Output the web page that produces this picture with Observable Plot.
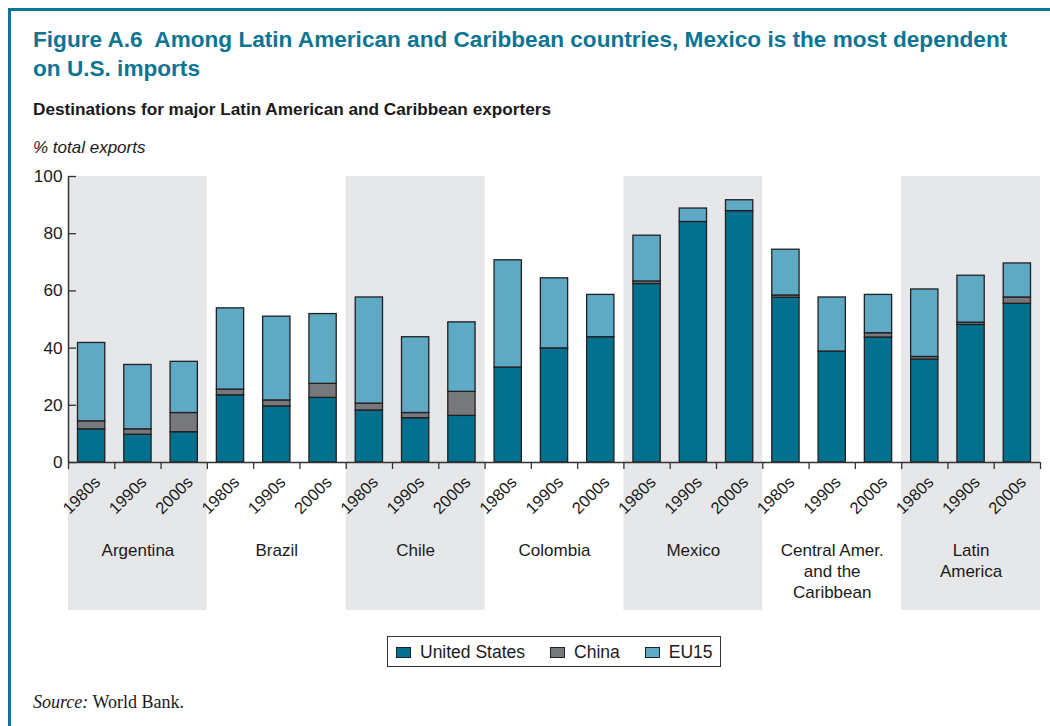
<!DOCTYPE html>
<html>
<head>
<meta charset="utf-8">
<script src="https://cdn.jsdelivr.net/npm/d3@7"></script>
<script src="https://cdn.jsdelivr.net/npm/@observablehq/plot@0.6"></script>
<style>
  html, body { margin: 0; padding: 0; background: #fff; }
  body { width: 1050px; height: 726px; position: relative; overflow: hidden; font-family: "Liberation Sans", Arial, Helvetica, sans-serif; }
  .frame { position: absolute; left: 8px; top: 8px; width: 1100px; height: 800px; border-top: 3.5px solid #0b7593; border-left: 3.5px solid #0b7593; box-sizing: border-box; }
  .title { position: absolute; left: 33px; top: 25px; width: 1010px; color: #0b7593; font-weight: bold; font-size: 22.6px; line-height: 29px; }
  .subtitle { position: absolute; left: 33px; top: 99px; font-weight: bold; font-size: 17.2px; color: #1a1a1a; }
  .unit { position: absolute; left: 33px; top: 138px; font-style: italic; font-size: 17px; color: #1a1a1a; }
  #chart { position: absolute; left: 0; top: 160px; }
  .legend { position: absolute; left: 387px; top: 636px; width: 334px; height: 31px; border: 1.5px solid #333; box-sizing: border-box; display: flex; align-items: center; font-size: 17.5px; color: #1a1a1a; }
  .legend span.sw { display: inline-block; width: 15px; height: 11px; border: 1.3px solid #222; box-sizing: border-box; margin-right: 9px; }
  .legend .item { display: flex; align-items: center; padding-top: 2px; }
  .source { position: absolute; left: 33px; top: 692px; font-family: "Liberation Serif", "Times New Roman", serif; font-size: 18px; color: #1a1a1a; }
</style>
</head>
<body>
<div class="frame"></div>
<div class="title">Figure A.6&nbsp; Among Latin American and Caribbean countries, Mexico is the most dependent<br>on U.S. imports</div>
<div class="subtitle">Destinations for major Latin American and Caribbean exporters</div>
<div class="unit">% total exports</div>
<div id="chart"></div>
<div class="legend" id="legend"></div>
<div class="source"><i>Source:</i> World Bank.</div>
<script>
const countries = ["Argentina", "Brazil", "Chile", "Colombia", "Mexico", "Central Amer.\nand the\nCaribbean", "Latin\nAmerica"];
const decades = ["1980s", "1990s", "2000s"];
const seriesNames = ["United States", "China", "EU15"];
const seriesColors = ["#04708f", "#77787b", "#5eaac4"];
const usValues    = [11.6, 9.7, 10.6, 23.5, 19.6, 22.6, 18.2, 15.5, 16.3, 33.2, 39.9, 43.8, 62.4, 84.1, 87.9, 57.6, 38.8, 43.7, 36.0, 48.1, 55.5];
const chinaValues = [2.8, 1.9, 6.7, 2.0, 2.1, 4.9, 2.4, 1.8, 8.4, 0, 0, 0, 0.9, 0, 0, 0.8, 0, 1.5, 0.9, 0.8, 2.2];
const euValues    = [27.4, 22.5, 17.9, 28.4, 29.3, 24.4, 37.1, 26.5, 24.3, 37.5, 24.5, 14.8, 16.0, 4.7, 3.8, 16.0, 18.9, 13.4, 23.6, 16.4, 11.9];
const yTicks = [0, 20, 40, 60, 80, 100];

// build table
const slots = [];
countries.forEach((c, g) => decades.forEach((d, k) => slots.push({country: c, decade: d, i: g * 3 + k})));
const seriesValues = [usValues, chinaValues, euValues];
const segments = [];
slots.forEach(s => {
  let base = 0;
  seriesValues.forEach((vals, j) => {
    const v = vals[s.i];
    if (v > 0) segments.push({i: s.i, x1: s.i, x2: s.i + 1, y1: base, y2: base + v, series: seriesNames[j]});
    base += v;
  });
});
const groups = countries.map((c, g) => ({country: c, x1: g * 3, x2: g * 3 + 3, xm: g * 3 + 1.5}));
const shaded = groups.filter((d, g) => g % 2 === 0);

const chart = Plot.plot({
  width: 1050,
  height: 462,
  marginLeft: 68,
  marginRight: 10,
  marginTop: 16,
  marginBottom: 160,
  style: {fontFamily: "Liberation Sans, Arial, sans-serif", fontSize: "17px", color: "#1a1a1a", background: "transparent"},
  x: {domain: [0, 21], axis: null},
  y: {domain: [0, 100], axis: null},
  color: {domain: seriesNames, range: seriesColors},
  marks: [
    Plot.rect(shaded, {x1: "x1", x2: "x2", y1: 0, y2: 100, fill: "#e6e7e9", insetBottom: -148}),
    Plot.rectY(segments, {x1: "x1", x2: "x2", y1: "y1", y2: "y2", fill: "series", stroke: "#231f20", strokeWidth: 1.3, insetLeft: 9.5, insetRight: 9.5}),
    Plot.ruleX([0], {y1: 0, y2: 100, stroke: "#333", strokeWidth: 1.5}),
    Plot.ruleY([0], {x1: 0, x2: 21, stroke: "#333", strokeWidth: 1.5}),
    Plot.axisY({ticks: yTicks, tickSize: 8, dx: 8, text: null, stroke: "#333", strokeWidth: 1.3}),
    Plot.axisY({ticks: yTicks, tickSize: 0, tickPadding: 6, fontSize: 17.2, fill: "#1a1a1a"}),
    Plot.axisX({ticks: d3.range(0, 22), tickSize: 7, tickFormat: () => "", stroke: "#333", strokeWidth: 1.3}),
    Plot.text(slots, {x: d => d.i + 0.5, y: 0, text: "decade", rotate: -45, textAnchor: "end", dx: 6, dy: 17, fontSize: 16.5, fill: "#1a1a1a"}),
    Plot.text(groups, {x: "xm", y: 0, text: "country", lineAnchor: "top", dy: 79, lineHeight: 1.22, fontSize: 17, fill: "#1a1a1a"})
  ]
});
document.getElementById("chart").appendChild(chart);

const legend = document.getElementById("legend");
const gaps = [8, 25, 25];
seriesNames.forEach((n, j) => {
  const item = document.createElement("div");
  item.className = "item";
  item.style.marginLeft = gaps[j] + "px";
  item.innerHTML = `<span class="sw" style="background:${seriesColors[j]}"></span>${n}`;
  legend.appendChild(item);
});
</script>
</body>
</html>
